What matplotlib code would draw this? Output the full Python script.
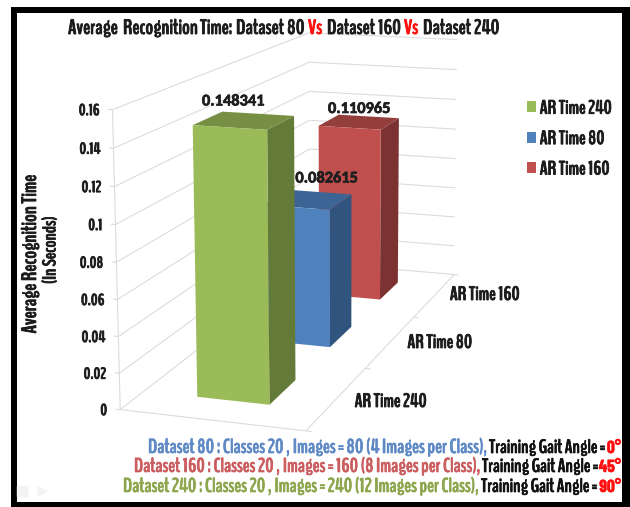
# 3D style column chart drawn on a flat axes in pixel units
import numpy as np
import matplotlib
matplotlib.use("Agg")
import matplotlib.pyplot as plt
import matplotlib.patheffects as pe
from matplotlib.patches import Polygon, Rectangle, Patch

# data
series = ["AR Time 160", "AR Time 80", "AR Time 240"]
values = [0.110965, 0.082615, 0.148341]
value_labels = ["0.110965", "0.082615", "0.148341"]
yticks = [0, 0.02, 0.04, 0.06, 0.08, 0.1, 0.12, 0.14, 0.16]
ytick_labels = ["0", "0.02", "0.04", "0.06", "0.08", "0.1", "0.12", "0.14", "0.16"]
legend_order = ["AR Time 240", "AR Time 80", "AR Time 160"]
zmax = 0.16

front_col = {"AR Time 240": "#9BBB59", "AR Time 80": "#4F81BD", "AR Time 160": "#C0504D"}
side_col = {"AR Time 240": "#647A38", "AR Time 80": "#31547F", "AR Time 160": "#7B3230"}
top_col = {"AR Time 240": "#768F43", "AR Time 80": "#3C6495", "AR Time 160": "#933E3B"}
label_off = {"AR Time 240": (-11, -15), "AR Time 80": (19, -17), "AR Time 160": (0, -9)}

NARROW = ["BenchNine", "Pathway Gothic One", "Liberation Sans Narrow", "DejaVu Sans"]
ANGLE_FONT = ["Barlow Condensed", "Liberation Sans Narrow", "DejaVu Sans"]
DARK = "#1c1c1c"

fig = plt.figure(figsize=(6.3, 5.07), dpi=100)
ax = fig.add_axes([0, 0, 1, 1])
ax.set_xlim(0, 630)
ax.set_ylim(507, 0)
ax.axis("off")

# frame
ax.add_patch(Rectangle((11, 7), 619, 500, fc="black", ec="none", zorder=0))
ax.add_patch(Rectangle((17, 13), 605, 489, fc="white", ec="none", zorder=0))

# fit a perspective camera to the corners of the chart box
cam_world = [(0, 0, 0), (0, 0, 1), (1, 0, 0), (1, 1, 0), (1, 1, 1), (0, 1, 1), (0, 1, 0), (1, 1/3, 0), (1, 2/3, 0)]
cam_pix = [(121, 409), (113, 109), (305, 433), (455, 273), (458, 41), (308, 32), (310, 264), (365, 368), (413, 316)]
A = []
b = []
for (u, v, z), (x, y) in zip(cam_world, cam_pix):
    A.append([u, v, z, 1, 0, 0, 0, 0, -x*u, -x*v, -x*z])
    b.append(x)
    A.append([0, 0, 0, 0, u, v, z, 1, -y*u, -y*v, -y*z])
    b.append(y)
m = np.linalg.lstsq(np.array(A, float), np.array(b, float), rcond=None)[0]
P = np.append(m, 1).reshape(3, 4)


def proj(u, v, val):
    w = P @ np.array([u, v, val / zmax, 1.0])
    return w[:2] / w[2]


def heavy(t, col, lw=0.6):
    # the narrow face is thin, thicken it a bit
    t.set_path_effects([pe.withStroke(linewidth=lw, foreground=col)])
    return t


# walls and floor
GRID = "#dcdcdc"


def seg(p, q, lw=0.8, col=GRID):
    ax.plot([p[0], q[0]], [p[1], q[1]], color=col, lw=lw, zorder=1, solid_capstyle="butt")


for t, lab in zip(yticks, ytick_labels):
    seg(proj(0, 0, t), proj(0, 1, t))
    seg(proj(0, 1, t), proj(1, 1, t))
    seg(proj(-0.025, 0, t), proj(0, 0, t))
    px = proj(0, 0, t)
    heavy(ax.text(px[0] - 13, px[1] + 5.5, lab, ha="right", va="baseline", family=NARROW,
                  weight="bold", fontsize=11.5, color=DARK), DARK)
seg(proj(0, 0, 0), proj(0, 0, zmax))
seg(proj(0, 0, 0), proj(1, 0, 0))
seg(proj(1, 0, 0), proj(1, 1, 0))
for v in [0, 1/3, 2/3, 1]:
    seg(proj(1, v, 0), proj(1.03, v, 0))

# columns, back to front
u0, u1 = 0.30, 0.70
depth = 0.135
centers = [5/6, 1/2, 1/6]
for name, val, vc, lab in zip(series, values, centers, value_labels):
    v0, v1 = vc - depth/2, vc + depth/2
    front = [proj(u0, v0, 0), proj(u1, v0, 0), proj(u1, v0, val), proj(u0, v0, val)]
    side = [proj(u1, v0, 0), proj(u1, v1, 0), proj(u1, v1, val), proj(u1, v0, val)]
    top = [proj(u0, v0, val), proj(u1, v0, val), proj(u1, v1, val), proj(u0, v1, val)]
    ax.add_patch(Polygon(side, fc=side_col[name], ec="none", zorder=2))
    ax.add_patch(Polygon(top, fc=top_col[name], ec="none", zorder=2))
    ax.add_patch(Polygon(front, fc=front_col[name], ec="none", zorder=2))
    c = proj((u0 + u1)/2, vc, val)
    dx, dy = label_off[name]
    t = ax.text(c[0] + dx, c[1] + dy, lab, ha="center", va="baseline", family=["Carlito", "Lato", "DejaVu Sans"],
                weight="bold", fontsize=11.8, color="#1f1f1f", zorder=5)
    heavy(t, "#1f1f1f", 0.5)

# title, word by word
title_runs = [("Average", 68, DARK), ("Recognition", 123, DARK), ("Time:", 200, DARK),
              ("Dataset", 236, DARK), ("80", 287, DARK), ("Vs", 308, "#FF1010"),
              ("Dataset", 327, DARK), ("160", 378, DARK), ("Vs", 404, "#FF1010"),
              ("Dataset", 423, DARK), ("240", 474, DARK)]
for word, x, col in title_runs:
    heavy(ax.text(x, 34, word, ha="left", va="baseline", family=NARROW, weight="bold", fontsize=15, color=col), col)

# axis titles
heavy(ax.text(30, 254, "Average Recognition Time", rotation=90, ha="center", va="center", family=NARROW,
              weight="bold", fontsize=15, color=DARK), DARK)
heavy(ax.text(50, 250, "(In Seconds)", rotation=90, ha="center", va="center", family=NARROW,
              weight="bold", fontsize=13.5, color=DARK), DARK)

# depth axis labels
for name, x, y in zip(series, [485, 440, 391], [300, 348, 407]):
    heavy(ax.text(x, y, name, ha="center", va="baseline", family=NARROW, weight="bold", fontsize=14, color=DARK), DARK)

# legend
handles = [Patch(fc=front_col[n], ec="none") for n in legend_order]
leg = ax.legend(handles, legend_order, loc="upper left", bbox_to_anchor=(517, 90), bbox_transform=ax.transData,
                frameon=False, handlelength=0.47, handleheight=0.5, handletextpad=0.2, labelspacing=0.69,
                borderpad=0, prop=dict(family=NARROW, weight="bold", size=14), labelcolor=DARK)
for t in leg.get_texts():
    heavy(t, DARK)

# footnotes: coloured description, black text, red angle
BLUE_T, RED_T, GREEN_T = "#5F8AC6", "#CB5D5F", "#8DA64E"
notes = [
    ("Dataset 80 : Classes 20 , Images = 80 (4 Images per Class),", BLUE_T, 148, "0°", 489, 609, 453),
    ("Dataset 160 : Classes 20 , Images = 160 (8 Images per Class),", RED_T, 134, "45°", 482, 602, 472),
    ("Dataset 240 : Classes 20 , Images = 240 (12 Images per Class),", GREEN_T, 123, "90°", 481, 601, 492),
]
renderer = fig.canvas.get_renderer()


def fit_run(s, x0, x1, y, col):
    # scale the font so the run spans x0..x1
    t = ax.text(x0, y, s, ha="left", va="baseline", family=NARROW, weight="bold", fontsize=14, color=col)
    w = t.get_window_extent(renderer).width
    t.set_fontsize(14 * (x1 - x0) / w)
    return heavy(t, col, 0.5)


for desc, col, x0, angle, x1, x2, y in notes:
    fit_run(desc, x0, x1 + 1, y, col)
    fit_run("Training Gait Angle =", x1, x2 - 3, y, "#111111")
    heavy(ax.text(621, y, angle, ha="right", va="baseline", family=ANGLE_FONT, weight="bold",
                  fontsize=12.5, color="#FF1010"), "#FF1010", 0.3)

# faint slide controls in the corner
ax.scatter([22], [491], marker="s", s=45, color="#f3f3f3", zorder=1)
ax.scatter([42], [491], marker=">", s=40, color="#f3f3f3", zorder=1)

fig.savefig("out.png", dpi=100)
